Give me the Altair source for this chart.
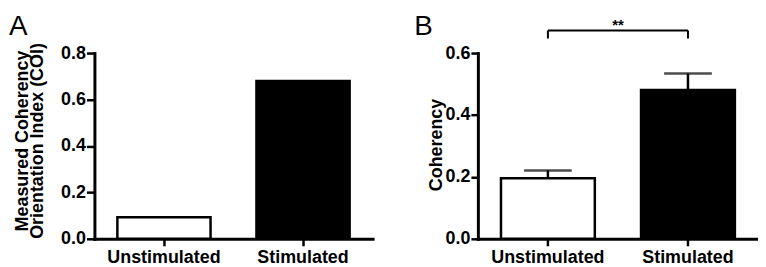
import altair as alt
import pandas as pd

categories = ["Unstimulated", "Stimulated"]
fills = ["white", "black"]
coi_values = [0.093, 0.68]
coherency_values = [0.196, 0.481]
coherency_err = [0.025, 0.053]
coi_ticks = [0.0, 0.2, 0.4, 0.6, 0.8]
coh_ticks = [0.0, 0.2, 0.4, 0.6]
bracket_top = 0.673
bracket_bottom = 0.647
sig_label = "**"
panel_labels = ["A", "B"]
title_a = ["Measured Coherency", "Orientation Index (COI)"]
title_b = "Coherency"

FONT = "Liberation Sans"
H = 187

dfa = pd.DataFrame({"group": categories, "value": coi_values, "fill": fills})
dfb = pd.DataFrame({
    "group": categories,
    "value": coherency_values,
    "upper": [v + e for v, e in zip(coherency_values, coherency_err)],
    "fill": fills,
})

xscale = alt.Scale(domain=categories, paddingInner=0.33, paddingOuter=0.165)
xaxis = alt.Axis(title=None, labelAngle=0, tickSize=7, labelPadding=3,
                 labelFontSize=18, labelFontWeight="bold", labelFont=FONT)


def yaxis(vals, title, tx, ty, tsize):
    return alt.Axis(values=vals, format=".1f", title=title, tickSize=tsize,
                    labelPadding=1, labelFontSize=18, labelFontWeight="bold",
                    labelFont=FONT, titleFontSize=18, titleFontWeight="bold",
                    titleFont=FONT, titleLineHeight=15, titleX=tx, titleY=ty,
                    grid=False)


# Panel A
ya = alt.Y("value:Q", scale=alt.Scale(domain=[0, 0.8], nice=False),
           axis=yaxis(coi_ticks, title_a, -63, 88, 8))
bars_a = alt.Chart(dfa).mark_bar(stroke="black", strokeWidth=2.5).encode(
    x=alt.X("group:N", sort=categories, scale=xscale, axis=xaxis),
    y=ya,
    fill=alt.Fill("fill:N", scale=None),
)
label_a = alt.Chart(pd.DataFrame({"t": [panel_labels[0]]})).mark_text(
    align="left", baseline="alphabetic", fontSize=28, font=FONT, color="black",
    x=-86, y=-18.5,
).encode(text="t:N")
panel_a = alt.layer(bars_a, label_a).properties(width=280, height=H)

# Panel B
yb_scale = alt.Scale(domain=[0, 0.6], nice=False)
xb = alt.X("group:N", sort=categories, scale=xscale, axis=xaxis)
bars_b = alt.Chart(dfb).mark_bar(stroke="black", strokeWidth=2.5).encode(
    x=xb,
    y=alt.Y("value:Q", scale=yb_scale, axis=yaxis(coh_ticks, title_b, -33, 92, 7)),
    fill=alt.Fill("fill:N", scale=None),
)
err_b = alt.Chart(dfb).mark_rule(color="black", strokeWidth=2.5).encode(
    x=xb, y=alt.Y("value:Q", scale=yb_scale), y2="upper:Q"
)
cap_b = alt.Chart(dfb).mark_tick(color="black", thickness=2.5, size=48).encode(
    x=xb, y=alt.Y("upper:Q", scale=yb_scale)
)
dfbr = pd.DataFrame({"a": [categories[0]], "b": [categories[1]],
                     "top": [bracket_top], "bottom": [bracket_bottom],
                     "t": [sig_label]})
br_h = alt.Chart(dfbr).mark_rule(color="black", strokeWidth=2).encode(
    x=alt.X("a:N", scale=xscale), x2="b:N", y=alt.Y("top:Q", scale=yb_scale)
)
br_l = alt.Chart(dfbr).mark_rule(color="black", strokeWidth=2).encode(
    x=alt.X("a:N", scale=xscale), y=alt.Y("bottom:Q", scale=yb_scale), y2="top:Q"
)
br_r = alt.Chart(dfbr).mark_rule(color="black", strokeWidth=2).encode(
    x=alt.X("b:N", scale=xscale), y=alt.Y("bottom:Q", scale=yb_scale), y2="top:Q"
)
star = alt.Chart(dfbr).mark_text(
    align="center", baseline="alphabetic", fontSize=15, fontWeight="bold",
    font=FONT, color="black", dx=70.5, dy=0,
).encode(x=alt.X("a:N", scale=xscale), y=alt.Y("top:Q", scale=yb_scale), text="t:N")
label_b = alt.Chart(pd.DataFrame({"t": [panel_labels[1]]})).mark_text(
    align="left", baseline="alphabetic", fontSize=28, font=FONT, color="black",
    x=-64, y=-18.5,
).encode(text="t:N")
panel_b = alt.layer(bars_b, err_b, cap_b, br_h, br_l, br_r, star, label_b).properties(
    width=282, height=H)

chart = alt.hconcat(panel_a, panel_b, spacing=106, bounds="flush").configure_view(
    stroke=None
).configure_axis(
    domainColor="black", domainWidth=3, domainCap="square", tickColor="black",
    tickWidth=2.5, labelColor="black", titleColor="black",
).properties(padding={"left": 1, "top": 3.5, "right": 0, "bottom": 0},
             background="white")

chart.save("out.html", embed_options={"renderer": "svg", "actions": False})
